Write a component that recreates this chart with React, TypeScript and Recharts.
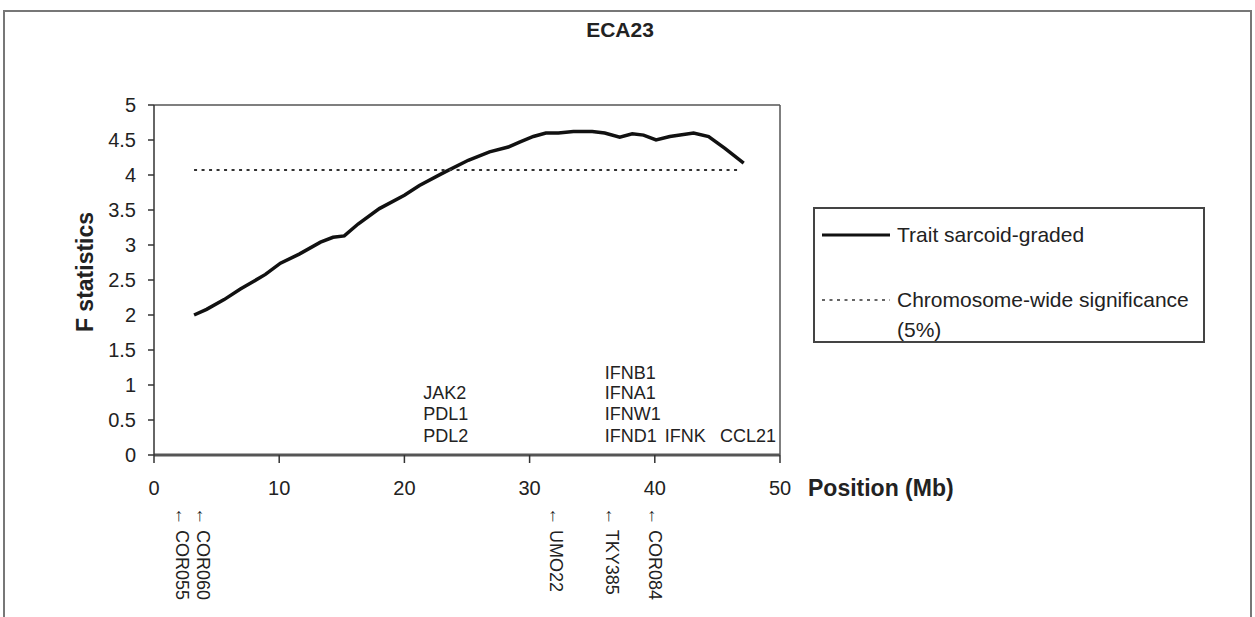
import React from 'react';
import { ComposedChart, Line, Scatter, XAxis, YAxis, ReferenceLine, Legend } from 'recharts';

// F statistic along ECA23 (position in Mb)
const positions = [3.2, 4.2, 5.6, 6.9, 8.9, 10.1, 11.6, 13.3, 14.3, 15.2, 16.3, 18.0, 20.0, 21.2, 23.1, 25.1, 26.8, 28.3, 29.2, 30.3, 31.3, 32.3, 33.5, 35.0, 36.0, 37.2, 38.2, 39.1, 40.1, 41.2, 43.1, 44.3, 45.6, 47.1];
const fValues = [2.0, 2.08, 2.22, 2.37, 2.58, 2.74, 2.87, 3.04, 3.11, 3.13, 3.3, 3.52, 3.71, 3.85, 4.03, 4.21, 4.33, 4.4, 4.47, 4.55, 4.6, 4.6, 4.62, 4.62, 4.6, 4.54, 4.59, 4.57, 4.5, 4.55, 4.6, 4.55, 4.38, 4.17];

// chromosome-wide 5% threshold
const thresholdRange = [3.2, 46.6];
const thresholdValue = 4.07;

// genes written inside the plot
const geneNames = ['JAK2', 'PDL1', 'PDL2', 'IFNB1', 'IFNA1', 'IFNW1', 'IFND1', 'IFNK', 'CCL21'];
const genePos = [21.5, 21.5, 21.5, 36.0, 36.0, 36.0, 36.0, 40.8, 45.2];
const geneLevel = [0.88, 0.59, 0.27, 1.17, 0.88, 0.59, 0.27, 0.27, 0.27];

// microsatellite markers below the axis
const markerNames = ['COR055', 'COR060', 'UMO22', 'TKY385', 'COR084'];
const markerPos = [2.26, 3.89, 32.1, 36.6, 40.0];

const xTicks = [0, 10, 20, 30, 40, 50];
const yTicks = [0, 0.5, 1, 1.5, 2, 2.5, 3, 3.5, 4, 4.5, 5];

const FONT = '"Liberation Sans", Arial, sans-serif';

const curve = positions.map((pos, i) => ({ pos, f: fValues[i] }));
const threshold = thresholdRange.map((pos) => ({ pos, thr: thresholdValue }));
const genes = geneNames.map((gene, i) => ({ pos: genePos[i], level: geneLevel[i], gene }));
const markers = markerNames.map((marker, i) => ({ pos: markerPos[i], base: 0, marker }));

const GeneText = (props: any) => {
  const { cx, cy, payload } = props;
  return (
    <text x={cx} y={cy} fontSize={18} fill="#222" fontFamily={FONT} dominantBaseline="central">
      {payload.gene}
    </text>
  );
};

// marker name hangs below the x axis, rotated like the original
const MarkerText = (props: any) => {
  const { cx, cy, payload } = props;
  const top = cy + 52;
  return (
    <text x={cx} y={top} fontSize={18} fill="#222" fontFamily={FONT} dominantBaseline="central" transform={`rotate(90, ${cx}, ${top})`}>
      {'\u2190 ' + payload.marker}
    </text>
  );
};

const YTitle = (props: any) => {
  const vb = props.viewBox;
  const cx = vb.x + 85;
  const cy = vb.y + vb.height / 2 - 8;
  return (
    <text x={cx} y={cy} fontSize={23} fontWeight="bold" fill="#222" fontFamily={FONT} textAnchor="middle" dominantBaseline="central" transform={`rotate(-90, ${cx}, ${cy})`}>
      F statistics
    </text>
  );
};

const XTitle = (props: any) => {
  const vb = props.viewBox;
  return (
    <text x={vb.x + vb.width + 28} y={488} fontSize={23} fontWeight="bold" fill="#222" fontFamily={FONT} dominantBaseline="central">
      Position (Mb)
    </text>
  );
};

const legendOrder = ['f', 'thr'];

const LegendBox = (props: any) => {
  const items = (props.payload || [])
    .filter((p: any) => legendOrder.includes(p.dataKey))
    .sort((a: any, b: any) => legendOrder.indexOf(a.dataKey) - legendOrder.indexOf(b.dataKey));
  const rowTop = [11, 76];
  return (
    <div style={{ position: 'relative', width: 392, height: 136, border: '2px solid #444', boxSizing: 'border-box', background: '#fff', fontFamily: FONT, fontSize: 21, color: '#222' }}>
      {items.map((item: any, i: number) => {
        const dashed = item.dataKey === 'thr';
        return (
          <div key={item.value} style={{ position: 'absolute', left: 7, top: rowTop[i], display: 'flex', alignItems: 'flex-start' }}>
            <svg width={68} height={30} style={{ flex: 'none' }}>
              <line x1={0} y1={15} x2={68} y2={15} stroke={dashed ? '#333' : '#111'} strokeWidth={dashed ? 1.5 : 3} strokeDasharray={dashed ? '3 4.5' : undefined} />
            </svg>
            <span style={{ marginLeft: 7, lineHeight: '30px', width: 300 }}>{item.value}</span>
          </div>
        );
      })}
    </div>
  );
};

export default function App() {
  return (
    <div style={{ position: 'absolute', left: 0, top: 0, width: 1255, height: 617, overflow: 'hidden', background: '#fff' }}>
      <div style={{ position: 'absolute', left: 3, top: 10, width: 1249, height: 607, borderTop: '2px solid #777', borderLeft: '2px solid #777', borderRight: '2px solid #777', boxSizing: 'border-box' }} />
      <div style={{ position: 'absolute', left: 0, top: 18, width: 1240, textAlign: 'center', fontFamily: FONT, fontWeight: 'bold', fontSize: 21, color: '#222' }}>
        ECA23
      </div>
      <div style={{ position: 'absolute', left: 0, top: 0 }}>
        <ComposedChart width={1255} height={617} margin={{ top: 105, right: 475, left: 0, bottom: 122 }}>
          <XAxis
            dataKey="pos"
            type="number"
            domain={[0, 50]}
            ticks={xTicks}
            height={40}
            tickSize={8}
            tickMargin={18}
            axisLine={{ stroke: '#555', strokeWidth: 3 }}
            tickLine={{ stroke: '#333', strokeWidth: 1.5 }}
            tick={{ fontSize: 20, fill: '#222', fontFamily: FONT }}
            label={<XTitle />}
          />
          <YAxis
            type="number"
            domain={[0, 5]}
            ticks={yTicks}
            width={154}
            tickSize={6}
            tickMargin={12}
            axisLine={{ stroke: '#333', strokeWidth: 1.5 }}
            tickLine={{ stroke: '#333', strokeWidth: 1.5 }}
            tick={{ fontSize: 20, fill: '#222', fontFamily: FONT }}
            label={<YTitle />}
          />
          <ReferenceLine y={5} stroke="#555" strokeWidth={1.5} />
          <ReferenceLine x={50} stroke="#555" strokeWidth={1.5} />
          <Line
            data={curve}
            dataKey="f"
            name="Trait sarcoid-graded"
            stroke="#111"
            strokeWidth={3.5}
            dot={false}
            activeDot={false}
            type="linear"
            isAnimationActive={false}
          />
          <Line
            data={threshold}
            dataKey="thr"
            name="Chromosome-wide significance (5%)"
            stroke="#333"
            strokeWidth={2}
            strokeDasharray="3 4.5"
            dot={false}
            activeDot={false}
            type="linear"
            isAnimationActive={false}
          />
          <Scatter data={genes} dataKey="level" shape={<GeneText />} legendType="none" isAnimationActive={false} />
          <Scatter data={markers} dataKey="base" shape={<MarkerText />} legendType="none" isAnimationActive={false} />
          <Legend
            layout="horizontal"
            align="center"
            verticalAlign="middle"
            content={<LegendBox />}
            wrapperStyle={{ position: 'absolute', left: 813, top: 207, width: 392, height: 136 }}
          />
        </ComposedChart>
      </div>
    </div>
  );
}
